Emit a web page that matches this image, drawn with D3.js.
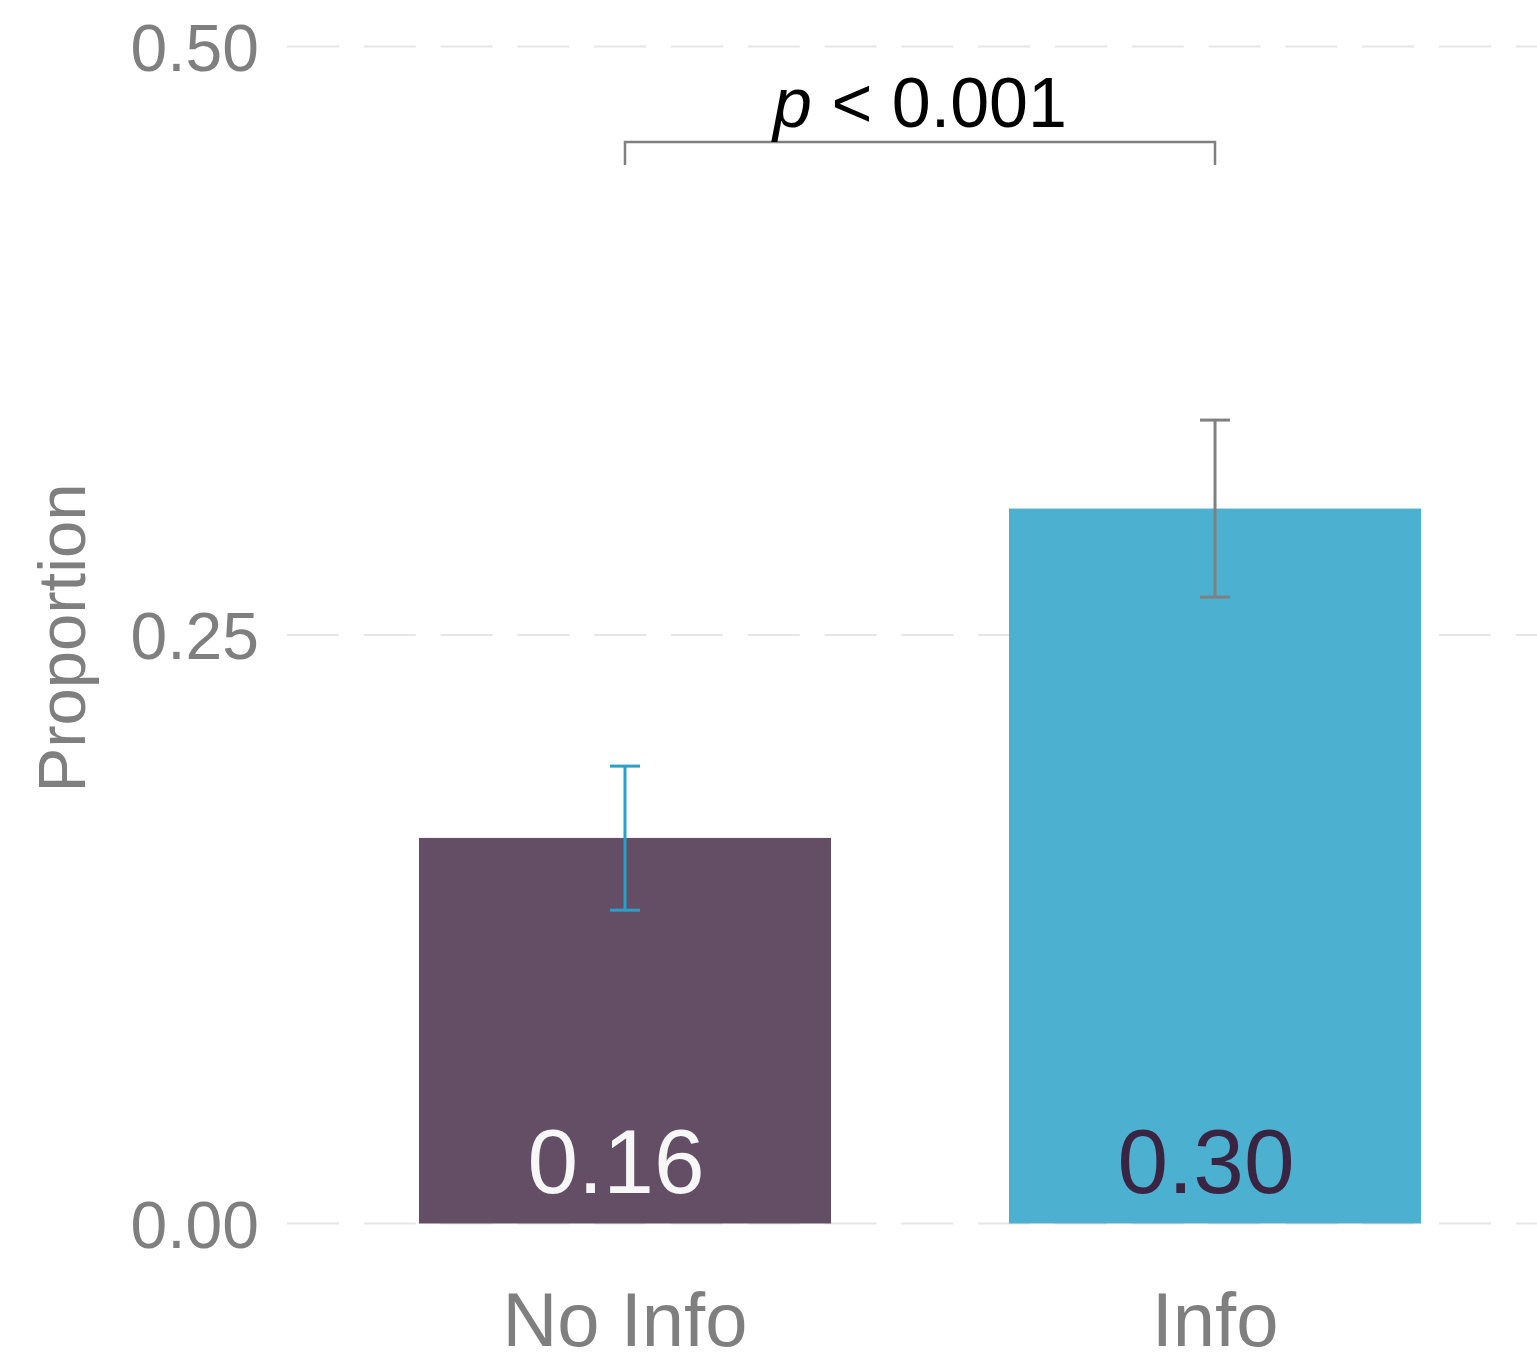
<!DOCTYPE html>
<html>
<head>
<meta charset="utf-8">
<script src="https://cdn.jsdelivr.net/npm/d3@7"></script>
<style>
  html, body { margin: 0; padding: 0; background: #ffffff; }
  svg { display: block; }
  text { font-family: "Liberation Sans", Arial, Helvetica, sans-serif; }
</style>
</head>
<body>
<svg id="chart" width="1537" height="1363"></svg>
<script>
// Proportion by condition, with 95% interval bounds
const categories = ["No Info", "Info"];
const proportions = [0.1638, 0.3037];
const lowerBounds = [0.1331, 0.2661];
const upperBounds = [0.1943, 0.3413];
const barColors = ["#634e66", "#4cb0d1"];
const errorColors = ["#2aa0c8", "#808080"];
const valueLabelColors = ["#f7f7f7", "#3a2442"];
const yTicks = [0, 0.25, 0.5];
const pLabel = "p";
const pRest = " < 0.001";

const svg = d3.select("#chart");

const x = d3.scaleBand()
  .domain(categories)
  .range([288, 1552])
  .paddingInner(0.3017)
  .paddingOuter(0.222);

const y = d3.scaleLinear()
  .domain([0, 0.5])
  .range([1223.5, 46.5]);

// Dashed horizontal gridlines
svg.append("g")
  .selectAll("line")
  .data(yTicks)
  .join("line")
  .attr("x1", 287)
  .attr("x2", 1537)
  .attr("y1", d => y(d))
  .attr("y2", d => y(d))
  .attr("stroke", "#e6e6e6")
  .attr("stroke-width", 2)
  .attr("stroke-dasharray", "52,24.8");

// Y axis tick labels
const yAxis = d3.axisLeft(y)
  .tickValues(yTicks)
  .tickFormat(d3.format(".2f"))
  .tickSize(0)
  .tickPadding(0);

const yAxisG = svg.append("g")
  .attr("transform", "translate(259,0)")
  .call(yAxis);
yAxisG.select(".domain").remove();
yAxisG.selectAll("text")
  .attr("fill", "#7f7f7f")
  .attr("font-size", 66)
  .attr("dy", "0.36em");

// Y axis title
svg.append("text")
  .attr("transform", `translate(85,${y(0.25) + 3}) rotate(-90)`)
  .attr("text-anchor", "middle")
  .attr("fill", "#7f7f7f")
  .attr("font-size", 67)
  .text("Proportion");

// X axis category labels
const xAxis = d3.axisBottom(x).tickSize(0).tickPadding(0);
const xAxisG = svg.append("g")
  .attr("transform", "translate(0,1346)")
  .call(xAxis);
xAxisG.select(".domain").remove();
xAxisG.selectAll("text")
  .attr("fill", "#7f7f7f")
  .attr("font-size", 76)
  .attr("dy", 0);

// Bars
svg.append("g")
  .selectAll("rect")
  .data(categories)
  .join("rect")
  .attr("x", d => x(d))
  .attr("width", x.bandwidth())
  .attr("y", (d, i) => y(proportions[i]))
  .attr("height", (d, i) => y(0) - y(proportions[i]))
  .attr("fill", (d, i) => barColors[i]);

// Error bars
const eb = svg.append("g")
  .selectAll("g")
  .data(categories)
  .join("g")
  .attr("stroke", (d, i) => errorColors[i])
  .attr("stroke-width", 3)
  .attr("fill", "none");

eb.append("line")
  .attr("x1", d => x(d) + x.bandwidth() / 2)
  .attr("x2", d => x(d) + x.bandwidth() / 2)
  .attr("y1", (d, i) => y(lowerBounds[i]))
  .attr("y2", (d, i) => y(upperBounds[i]));

[lowerBounds, upperBounds].forEach(bounds => {
  eb.append("line")
    .attr("x1", d => x(d) + x.bandwidth() / 2 - 15)
    .attr("x2", d => x(d) + x.bandwidth() / 2 + 15)
    .attr("y1", (d, i) => y(bounds[i]))
    .attr("y2", (d, i) => y(bounds[i]));
});

// Value labels inside bars
svg.append("g")
  .selectAll("text")
  .data(categories)
  .join("text")
  .attr("x", d => x(d) + x.bandwidth() / 2 - 9)
  .attr("y", 1193)
  .attr("text-anchor", "middle")
  .attr("font-size", 91)
  .attr("fill", (d, i) => valueLabelColors[i])
  .text((d, i) => d3.format(".2f")(proportions[i]));

// Significance bracket
const cx0 = x(categories[0]) + x.bandwidth() / 2;
const cx1 = x(categories[1]) + x.bandwidth() / 2;
svg.append("path")
  .attr("d", `M${cx0},165 V142 H${cx1} V165`)
  .attr("fill", "none")
  .attr("stroke", "#808080")
  .attr("stroke-width", 2.5);

const sig = svg.append("text")
  .attr("x", (cx0 + cx1) / 2)
  .attr("y", 127)
  .attr("text-anchor", "middle")
  .attr("font-size", 70)
  .attr("fill", "#000000");
sig.append("tspan").attr("font-style", "italic").text(pLabel);
sig.append("tspan").text(pRest);
</script>
</body>
</html>
